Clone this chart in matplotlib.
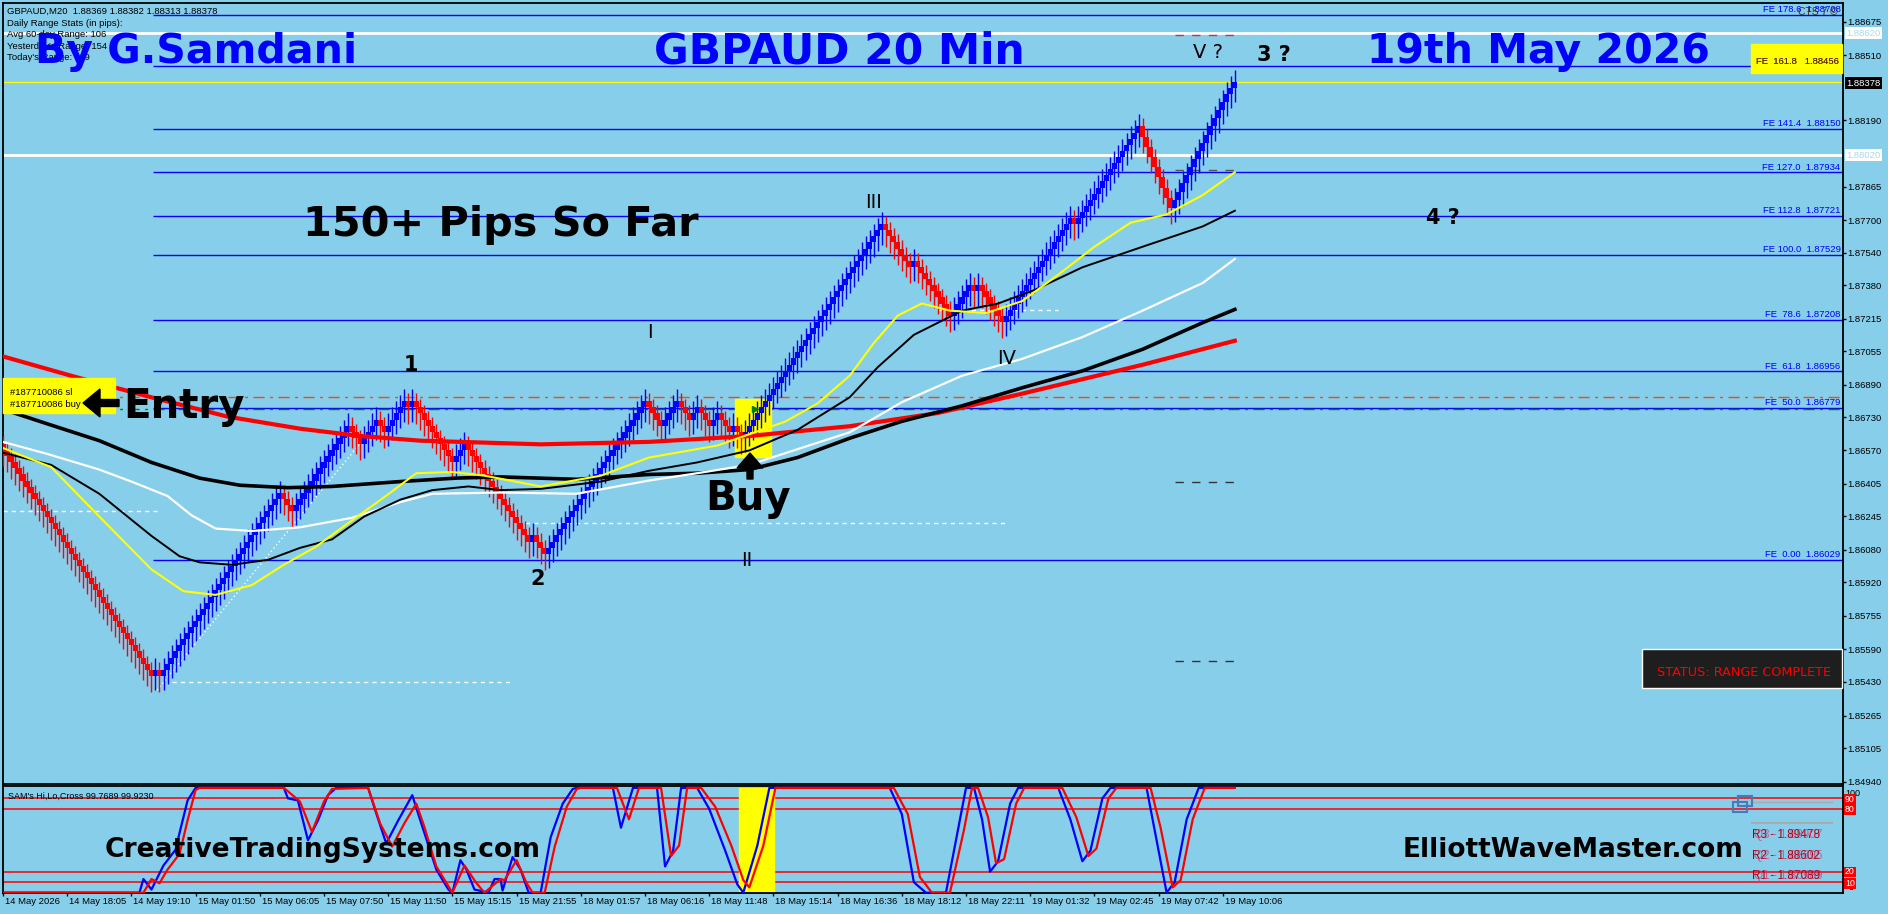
import matplotlib.pyplot as plt
import matplotlib.transforms as mtransforms
from matplotlib.patches import Rectangle, FancyArrow

W, H = 1888, 914
SKY = '#87CEEB'
SMALL = 'Liberation Sans'
BIG = 'DejaVu Sans'

# ---------------- data ----------------
# range bars: first open price, then runs of (number of bars, pips per bar)
FIRST_OPEN = 1.86600
RUNS = [(38, -3), (1, 3), (1, -3), (30, 3), (3, -3), (14, 3), (3, -3), (4, 3),
        (2, -3), (5, 3), (1, -3), (1, 3), (10, -3), (3, 3), (16, -3), (1, 3),
        (3, -3), (25, 3), (4, -3), (4, 3), (3, -3), (2, 3), (3, -3), (2, 3),
        (3, -3), (1, 3), (2, -3), (35, 3), (7, -3), (1, 3), (7, -3), (2, -3),
        (5, 3), (1, -3), (1, 3), (6, -3), (17, 3), (1, -3), (16, 3), (8, -5),
        (14, 4), (2, 3)]
PIP = 0.0001

# moving averages, sampled (bar index, price)
MA_RED_X = [0, 17, 37, 56, 74, 89, 104, 134, 161, 186, 211, 233, 254, 284, 307]
MA_RED_Y = [1.87030, 1.86935, 1.86829, 1.86734, 1.86675, 1.86639, 1.86616,
            1.86598, 1.86610, 1.86639, 1.86687, 1.86752, 1.86847, 1.86989, 1.87107]
MA_BLK_X = [0, 11, 24, 37, 49, 59, 71, 82, 99, 113, 124, 143, 161, 173, 186, 198,
            211, 224, 239, 254, 269, 284, 299, 307]
MA_BLK_Y = [1.86770, 1.86699, 1.86616, 1.86509, 1.86432, 1.86397, 1.86385,
            1.86391, 1.86415, 1.86432, 1.86438, 1.86426, 1.86450, 1.86456,
            1.86474, 1.86533, 1.86628, 1.86711, 1.86787, 1.86876, 1.86959,
            1.87065, 1.87196, 1.87261]
MA_WHT_X = [0, 11, 24, 32, 41, 47, 53, 62, 74, 87, 99, 107, 124, 143, 161, 173,
            186, 198, 211, 224, 239, 254, 269, 284, 299, 307]
MA_WHT_Y = [1.86610, 1.86551, 1.86474, 1.86415, 1.86344, 1.86249, 1.86184,
            1.86172, 1.86190, 1.86237, 1.86314, 1.86355, 1.86361, 1.86355,
            1.86420, 1.86456, 1.86497, 1.86574, 1.86657, 1.86805, 1.86935,
            1.87018, 1.87125, 1.87255, 1.87391, 1.87509]
MA_THN_X = [0, 12, 24, 37, 44, 49, 57, 66, 74, 82, 90, 99, 107, 116, 124, 134,
            149, 161, 173, 186, 198, 211, 218, 227, 239, 248, 257, 269, 284, 299,
            307]
MA_THN_Y = [1.86557, 1.86497, 1.86355, 1.86148, 1.86048, 1.86018, 1.86006,
            1.86030, 1.86089, 1.86131, 1.86243, 1.86326, 1.86373, 1.86391,
            1.86373, 1.86379, 1.86415, 1.86468, 1.86509, 1.86568, 1.86669,
            1.86829, 1.86977, 1.87136, 1.87255, 1.87290, 1.87356, 1.87468,
            1.87569, 1.87669, 1.87746]
MA_YEL_X = [0, 12, 24, 37, 45, 53, 62, 70, 78, 87, 95, 103, 112, 120, 134, 149,
            161, 178, 195, 203, 211, 217, 223, 229, 236, 245, 254, 263, 272, 281,
            290, 299, 307]
MA_YEL_Y = [1.86580, 1.86486, 1.86243, 1.85983, 1.85876, 1.85858, 1.85906,
            1.86006, 1.86095, 1.86225, 1.86338, 1.86456, 1.86462, 1.86444,
            1.86391, 1.86444, 1.86533, 1.86592, 1.86710, 1.86799, 1.86935,
            1.87095, 1.87231, 1.87290, 1.87255, 1.87243, 1.87302, 1.87432,
            1.87569, 1.87687, 1.87728, 1.87823, 1.87935]

# Fibonacci expansion levels
FE_LEVELS = ['0.00', '50.0', '61.8', '78.6', '100.0', '112.8', '127.0', '141.4',
             '161.8', '178.6']
FE_PRICES = [1.86029, 1.86779, 1.86956, 1.87208, 1.87529, 1.87721, 1.87934,
             1.88150, 1.88456, 1.88708]

WHITE_LEVELS = [1.88620, 1.88020]
LAST_PRICE = 1.88378
SL_PRICE = 1.86829
BUY_PRICE = 1.86771

PRICE_TICKS = [1.88675, 1.88510, 1.88190, 1.87865, 1.87700, 1.87540, 1.87380,
               1.87215, 1.87055, 1.86890, 1.86730, 1.86570, 1.86405, 1.86245,
               1.86080, 1.85920, 1.85755, 1.85590, 1.85430, 1.85265, 1.85105,
               1.84940]
TIME_LABELS = ['14 May 2026', '14 May 18:05', '14 May 19:10', '15 May 01:50',
               '15 May 06:05', '15 May 07:50', '15 May 11:50', '15 May 15:15',
               '15 May 21:55', '18 May 01:57', '18 May 06:16', '18 May 11:48',
               '18 May 15:14', '18 May 16:36', '18 May 18:12', '18 May 22:11',
               '19 May 01:32', '19 May 02:45', '19 May 07:42', '19 May 10:06']
TIME_TICKS = [16 * k for k in range(len(TIME_LABELS))]

# SAM's Hi,Lo,Cross oscillator, sampled (bar, value)
OSC_BLUE_X = [0, 34, 35, 37, 40, 43, 44, 46, 48, 70, 71, 73.5, 76, 78.5, 81, 83,
              91, 93, 95.5, 98.5, 102, 104, 108, 111, 112, 114, 115.5, 117.5,
              121, 122.5, 124, 124.5, 127, 129, 131, 134, 136.5, 139.5, 142, 143,
              152, 154, 157, 163, 165, 167, 169, 173, 176, 180, 183, 184.5, 188,
              191, 221, 224, 227, 230, 235, 238, 240, 242, 244, 246, 248, 251,
              253, 263, 266, 269, 271, 274, 276, 285, 287, 290, 292, 295, 298,
              307]
OSC_BLUE_Y = [0, 0, 13, 3, 26, 41, 57, 88, 100, 100, 90, 88, 50, 69, 93, 100,
              100, 76, 47, 69, 93, 69, 22, 3, 0, 31, 22, 3, 0, 13, 13, 2, 34, 22,
              0, 0, 53, 85, 99, 100, 100, 62, 100, 100, 25, 40, 100, 100, 80, 40,
              8, 0, 45, 100, 100, 75, 10, 0, 0, 60, 100, 100, 70, 20, 30, 85, 100,
              100, 70, 30, 40, 90, 100, 100, 60, 0, 10, 70, 100, 100]
OSC_RED_X = [0, 35, 37, 39, 41, 44, 46, 48, 49, 70, 74, 77, 80, 82, 91, 94, 97,
             100, 103, 105, 108, 112, 115, 118, 120, 124, 125, 128, 130.5, 132,
             135, 137.5, 140.5, 143, 144, 153, 156, 158.5, 164, 166.5, 168.5,
             170.5, 174, 177.5, 181.5, 184.5, 186, 189.5, 192.5, 222, 225.5,
             228.5, 231.5, 236, 239.5, 241.5, 243, 245.5, 247.5, 249.5, 252.5,
             254.5, 264, 267.5, 270.5, 272.5, 275.5, 277.5, 286, 288.5, 291.5,
             293.5, 296.5, 299.5, 307]
OSC_RED_Y = [0, 0, 13, 9, 22, 37, 69, 98, 100, 100, 87, 58, 87, 99, 100, 66, 44,
             66, 85, 63, 25, 0, 26, 9, 0, 13, 12, 31, 9, 0, 0, 44, 82, 99, 100,
             100, 70, 100, 100, 35, 45, 100, 100, 82, 45, 12, 5, 45, 100, 100, 75,
             15, 0, 0, 60, 100, 100, 72, 28, 32, 85, 100, 100, 72, 35, 42, 90,
             100, 100, 62, 5, 12, 70, 100, 100]
OSC_LEVELS = [90, 80, 20, 10]

# ---------------- build candles ----------------
opens, closes = [], []
p = FIRST_OPEN
for n, step in RUNS:
    for _ in range(n):
        opens.append(p)
        p = round(p + step * PIP, 5)
        closes.append(p)
bars = list(range(len(opens)))
ups = [c > o for o, c in zip(opens, closes)]
highs = [(c + 6 * PIP) if u else (o + 4 * PIP) for o, c, u in zip(opens, closes, ups)]
lows = [(o - 7 * PIP) if u else (c - 8 * PIP) for o, c, u in zip(opens, closes, ups)]


def fx(x):
    return x / W


def fy(y):
    return 1 - y / H


fig = plt.figure(figsize=(W / 100, H / 100), dpi=100, facecolor=SKY)
ax = fig.add_axes([fx(3), fy(784.3), 1840 / W, (784.3 - 2.5) / H], facecolor=SKY)
osc = fig.add_axes([fx(3), fy(893.3), 1840 / W, (893.3 - 786.3) / H], facecolor=SKY)

XMAX = 1840 / 4.0125
ax.set_xlim(0, XMAX)
ax.set_ylim(1.849272, 1.887694)
osc.set_xlim(0, XMAX)
osc.set_ylim(-0.6, 101.5)

for a in (ax, osc):
    for s in a.spines.values():
        s.set_linewidth(1.3)
        s.set_color('black')

# horizontal reference lines
fe_start = (153 - 3) / 4.0125
for lvl, pr in zip(FE_LEVELS, FE_PRICES):
    ax.hlines(pr, fe_start, XMAX, color='#0000FF', lw=1.0, zorder=2)
for pr in WHITE_LEVELS:
    ax.axhline(pr, color='white', lw=2.0, zorder=2)
ax.axhline(LAST_PRICE, color='#FFFF00', lw=0.8, zorder=2)
ax.axhline(SL_PRICE, color='#FF4500', lw=1.0, ls=(0, (8, 4, 2, 4)), zorder=2)
ax.axhline(BUY_PRICE, color='#008000', lw=1.0, ls=(0, (8, 4, 2, 4)), zorder=2)

# dashed white swing lines
ax.hlines(1.86271, 0, 38.4, color='white', lw=1.0, ls=(0, (3, 3)), zorder=2)
ax.hlines(1.85431, 42, 127, color='white', lw=1.0, ls=(0, (3, 3)), zorder=2)
ax.hlines(1.86211, 128, 250, color='white', lw=1.0, ls=(0, (3, 3)), zorder=2)
ax.hlines(1.87258, 233, 263, color='white', lw=1.0, ls=(0, (3, 3)), zorder=2)
ax.plot([38.4, 89.7], [1.85390, 1.86619], color='white', lw=1.0, ls=(0, (1, 2)), zorder=2)
for pr, col in [(1.86413, '#333333'), (1.85534, '#333333'), (1.87946, '#555555'),
                (1.88610, '#cc3333')]:
    ax.hlines(pr, 292, 307, color=col, lw=1.0, ls=(0, (6, 6)), zorder=2)

# yellow highlight at the buy bar
ax.add_patch(Rectangle((182.4, 1.86538), 9.0, 0.00285, color='#FFFF00', zorder=2.5))

# candles
body_lo = [min(o, c) for o, c in zip(opens, closes)]
body_h = [abs(c - o) for o, c in zip(opens, closes)]
cols = ['#0000FF' if u else '#FF0000' for u in ups]
ax.vlines(bars, lows, highs, colors=cols, lw=1.0, zorder=3)
ax.bar(bars, body_h, bottom=body_lo, width=1.3, color=cols, zorder=3)
ax.plot([187.5], [BUY_PRICE], marker='>', color='#008000', ms=5, zorder=5)

# moving averages
ax.plot(MA_RED_X, MA_RED_Y, color='#FF0000', lw=3.0, zorder=4)
ax.plot(MA_BLK_X, MA_BLK_Y, color='black', lw=2.6, zorder=4)
ax.plot(MA_WHT_X, MA_WHT_Y, color='white', lw=1.6, zorder=4)
ax.plot(MA_THN_X, MA_THN_Y, color='black', lw=1.4, zorder=4)
ax.plot(MA_YEL_X, MA_YEL_Y, color='#FFFF00', lw=1.5, zorder=4)

# price axis on the right
ax.set_xticks([])
ax.yaxis.tick_right()
ax.set_yticks(PRICE_TICKS)
ax.set_yticklabels([f'{t:.5f}' for t in PRICE_TICKS], fontfamily=SMALL, fontsize=6.8)
ax.tick_params(axis='y', length=2.2, width=1, pad=1.0, colors='black')

# FE labels
for lvl, pr in zip(FE_LEVELS, FE_PRICES):
    if lvl == '161.8':
        continue
    ax.text(XMAX - 0.6, pr + 0.00004, f'FE {lvl:>5}  {pr:.5f}', color='#0000FF',
            fontfamily=SMALL, fontsize=6.8, ha='right', va='bottom', zorder=6)

# oscillator panel
osc.plot(OSC_BLUE_X, OSC_BLUE_Y, color='#0000FF', lw=1.6, zorder=3)
osc.plot(OSC_RED_X, OSC_RED_Y, color='#FF0000', lw=1.6, zorder=4)
for lv in OSC_LEVELS:
    osc.axhline(lv, color='#FF0000', lw=1.1, zorder=2)
osc.add_patch(Rectangle((183.4, 1), 8.8, 99, color='#FFFF00', zorder=2.5))
osc.set_yticks([])
osc.set_xticks(TIME_TICKS)
osc.set_xticklabels(TIME_LABELS, fontfamily=SMALL, fontsize=6.8, ha='left')
osc.tick_params(axis='x', length=2.5, width=1, pad=0.5)
off = mtransforms.ScaledTranslation(2 / 100, 0, fig.dpi_scale_trans)
for lbl in osc.get_xticklabels():
    lbl.set_transform(lbl.get_transform() + off)


def t(x, y, s, **kw):
    fig.text(fx(x), fy(y), s, **kw)


# top left info block
info = ['GBPAUD,M20  1.88369 1.88382 1.88313 1.88378', 'Daily Range Stats (in pips):',
        'Avg 60-day Range: 106', "Yesterday's Range: 154", "Today's Range: 119"]
for i, line in enumerate(info):
    t(7, 14 + 11.6 * i, line, fontfamily=SMALL, fontsize=6.8, color='black', zorder=9)

# headline texts
bold = dict(fontfamily=BIG, fontweight='bold', va='baseline', zorder=10)
t(35, 63, 'By G.Samdani', color='#0000FF', fontsize=29.5, **bold)
t(654, 63, 'GBPAUD 20 Min', color='#0000FF', fontsize=30.5, **bold)
t(1367, 63, '19th May 2026', color='#0000FF', fontsize=29.5, **bold)
t(303, 236, '150+ Pips So Far', color='black', fontsize=29.8, **bold)
t(123, 418, 'Entry', color='black', fontsize=29, **bold)
t(705, 510, 'Buy', color='black', fontsize=29, **bold)
t(105, 857, 'CreativeTradingSystems.com', color='black', fontsize=19.1, **bold)
t(1403, 857, 'ElliottWaveMaster.com', color='black', fontsize=19.0, **bold)

# thick arrows (pixel coordinates)
ident = mtransforms.IdentityTransform()
fig.add_artist(FancyArrow(119, H - 403, -36, 0, width=7, head_width=28, head_length=17,
                          length_includes_head=True, color='black', transform=ident,
                          zorder=10))
fig.add_artist(FancyArrow(750, H - 479, 0, 26, width=6, head_width=26, head_length=15,
                          length_includes_head=True, color='black', transform=ident,
                          zorder=10))

# wave labels
wave_b = dict(fontfamily=BIG, fontweight='bold', ha='center', va='center', zorder=10)
wave_r = dict(fontfamily=BIG, ha='center', va='center', zorder=10)
t(411, 365, '1', fontsize=15, **wave_b)
t(538, 579, '2', fontsize=15, **wave_b)
t(1274, 55, '3 ?', fontsize=15, **wave_b)
t(1443, 218, '4 ?', fontsize=15, **wave_b)
t(650, 332, 'I', fontsize=14, **wave_r)
t(747, 560, 'II', fontsize=14, **wave_r)
t(874, 202, 'III', fontsize=14, **wave_r)
t(1007, 358, 'IV', fontsize=14, **wave_r)
t(1208, 53, 'V ?', fontsize=14, **wave_r)

# entry yellow tag
fig.patches.append(Rectangle((fx(3), fy(413)), 112 / W, 35 / H, color='#FFFF00',
                             transform=fig.transFigure, zorder=5))
t(10, 395, '#187710086 sl', fontfamily=SMALL, fontsize=6.8, zorder=6)
t(10, 407, '#187710086 buy', fontfamily=SMALL, fontsize=6.8, zorder=6)

# FE 161.8 yellow tag
fig.patches.append(Rectangle((fx(1751), fy(73)), 91 / W, 29 / H, color='#FFFF00',
                             transform=fig.transFigure, zorder=5))
t(1839, 64, 'FE  161.8   1.88456', fontfamily=SMALL, fontsize=6.8, color='#cc0000',
  ha='right', zorder=6)
t(1838.5, 63.5, 'FE  161.8   1.88456', fontfamily=SMALL, fontsize=6.8, color='#404000',
  ha='right', zorder=6)
t(1798, 15, 'CTS 7 \u00a9', fontfamily=SMALL, fontsize=7.5, color='#333333', zorder=6)

# price boxes on the axis
for y, s, fc, tc in [(32, '1.88620', 'white', '#a8d8f0'), (154, '1.88020', 'white', '#a8d8f0'),
                     (82, '1.88378', 'black', 'white')]:
    t(1846, y + 3.5, s, fontfamily=SMALL, fontsize=6.8, color=tc,
      bbox=dict(boxstyle='square,pad=0.15', fc=fc, ec='none'), zorder=8)

# status box
fig.patches.append(Rectangle((fx(1642), fy(688)), 200 / W, 39 / H, fc='#1e1e1e',
                             ec='white', lw=1, transform=fig.transFigure, zorder=5))
t(1657, 676, 'STATUS: RANGE COMPLETE', fontfamily=BIG, fontsize=9.2, color='#FF0000', zorder=6)

# oscillator labels
t(8, 799, "SAM's Hi,Lo,Cross 99.7689 99.9230", fontfamily=SMALL, fontsize=6.5, zorder=6)
for y, s in [(798.3, '90'), (808.3, '80'), (871, '20'), (882.3, '10')]:
    t(1845, y + 3.5, s, fontfamily=SMALL, fontsize=6.3, color='white',
      bbox=dict(boxstyle='square,pad=0.1', fc='#FF0000', ec='none'), zorder=8)
t(1845, 796, '100', fontfamily=SMALL, fontsize=6.5, zorder=7)
t(1849, 890, '0', fontfamily=SMALL, fontsize=6.5, zorder=7)
for y, a, b in [(838, 'R3 - 1.89478', 'Q3 - 1.88907'), (859, 'R2 - 1.88602', 'Q2 - 1.88695'),
                (879, 'R1 - 1.87089', 'Q1 - 1.86989')]:
    t(1752, y, a, fontfamily=SMALL, fontsize=8.5, color='#a00010', zorder=6)
    t(1754, y, b, fontfamily=SMALL, fontsize=8.5, color='#e0306a', alpha=0.7, zorder=6)
fig.add_artist(plt.Line2D([fx(1752), fx(1832)], [fy(802), fy(802)], color='#aaaaaa', lw=1))
fig.add_artist(plt.Line2D([fx(1752), fx(1832)], [fy(823), fy(823)], color='#aaaaaa', lw=1.5))
fig.patches.append(Rectangle((fx(1738), fy(806)), 14 / W, 10 / H, fc='none', ec='#4a7ab5',
                             lw=1.5, transform=fig.transFigure, zorder=6))
fig.patches.append(Rectangle((fx(1733), fy(812)), 14 / W, 10 / H, fc='none', ec='#4a7ab5',
                             lw=1.5, transform=fig.transFigure, zorder=6))

fig.savefig('out.png', dpi=100, facecolor=SKY)
